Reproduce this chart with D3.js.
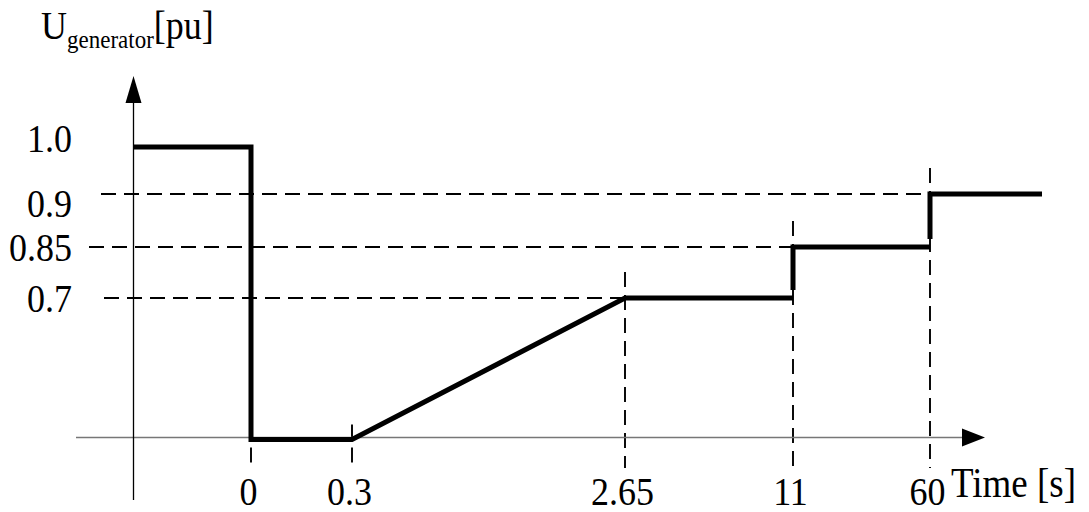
<!DOCTYPE html>
<html lang="en">
<head>
<meta charset="UTF-8">
<title>Generator voltage profile</title>
<script src="https://d3js.org/d3.v7.min.js"></script>
<style>
  body { margin: 0; background: #fff; }
  svg text { font-family: "Liberation Serif", "Times New Roman", serif; font-size: 36px; fill: #000; }
</style>
</head>
<body>
<div id="chart"></div>
<script>
// tick values and labels
const timeTicks = [0, 0.3, 2.65, 11, 60];
const timeLabels = ["0", "0.3", "2.65", "11", "60"];
const voltTicks = [1.0, 0.9, 0.85, 0.7];
const voltLabels = ["1.0", "0.9", "0.85", "0.7"];

// generator voltage profile: pre-fault, fault, ramp, recovery steps
const tPre = -1, tEnd = 100;
const profileTime = [tPre, 0, 0, 0.3, 2.65, 11, 11, 60, 60, tEnd];
const profileVolt = [1.0, 1.0, 0, 0, 0.7, 0.7, 0.85, 0.85, 0.9, 0.9];

const width = 1089, height = 512;
const stretch = "scale(1,1.12)";   // glyphs in the drawing are a bit taller than wide
const dash = "15,8";

const svg = d3.select("#chart").append("svg")
    .attr("width", width)
    .attr("height", height);

// schematic (not to scale) axes: piecewise linear scales
const x = d3.scaleLinear()
    .domain([tPre, ...timeTicks, tEnd])
    .range([133, 251, 352, 625, 793, 930, 1042]);

const y = d3.scaleLinear()
    .domain([0, 0.7, 0.85, 0.9, 1.0])
    .range([439.5, 298, 247, 194, 147]);

const axisY = y(0) - 2;
const yAxisX = x(tPre) + 0.5;

// dashed guides, horizontal: from the label to where the level is reached
const guideStart = { 0.9: 101, 0.85: 89, 0.7: 104 };
const levelReached = v => profileTime[profileVolt.findIndex((p, i) => p === v && i > 2)];
svg.append("g")
    .selectAll("line")
    .data(voltTicks.filter(v => v < 1))
    .join("line")
    .attr("x1", v => guideStart[v])
    .attr("x2", v => x(levelReached(v)))
    .attr("y1", v => y(v))
    .attr("y2", v => y(v))
    .attr("stroke", "#000")
    .attr("stroke-width", 1.9)
    .attr("stroke-dasharray", dash);

// dashed guides, vertical at each time tick
const levelAt = t => d3.max(profileTime.map((p, i) => p === t ? profileVolt[i] : -1));
svg.append("g")
    .selectAll("line")
    .data(timeTicks)
    .join("line")
    .attr("x1", t => x(t))
    .attr("x2", t => x(t))
    .attr("y1", t => {
        const v = t === 0 ? 0 : levelAt(t);
        return y(v) - (v > 0 ? 26 : 15);
    })
    .attr("y2", 468)
    .attr("stroke", "#000")
    .attr("stroke-width", 1.9)
    .attr("stroke-dasharray", dash);

// x axis (grey) with arrow
svg.append("line")
    .attr("x1", 76).attr("x2", 964)
    .attr("y1", axisY).attr("y2", axisY)
    .attr("stroke", "#777")
    .attr("stroke-width", 1.6);
svg.append("path")
    .attr("d", `M985,${axisY} L962,${axisY - 9} L962,${axisY + 9} Z`)
    .attr("fill", "#000");

// y axis with arrow
svg.append("line")
    .attr("x1", yAxisX).attr("x2", yAxisX)
    .attr("y1", 100).attr("y2", 500)
    .attr("stroke", "#000")
    .attr("stroke-width", 1.3);
svg.append("path")
    .attr("d", `M${yAxisX},76 L${yAxisX - 8},103 L${yAxisX + 8},103 Z`)
    .attr("fill", "#000");

// voltage profile; upward steps start a little above the previous level
const stepGap = 8;
const pts = profileTime.map((t, i) => [x(t), y(profileVolt[i])]);
const runs = [[pts[0]]];
for (let i = 1; i < pts.length; i++) {
    const stepUp = profileTime[i] === profileTime[i - 1] && profileVolt[i] > profileVolt[i - 1];
    if (stepUp) runs.push([[pts[i - 1][0], pts[i - 1][1] - stepGap]]);
    runs[runs.length - 1].push(pts[i]);
}
svg.append("g")
    .selectAll("path")
    .data(runs)
    .join("path")
    .attr("d", d3.line())
    .attr("fill", "none")
    .attr("stroke", "#000")
    .attr("stroke-width", 5)
    .attr("stroke-linejoin", "miter");

// y tick labels
const yNudge = { 1: -9, 0.9: 9 };
svg.append("g")
    .attr("transform", "translate(72,0)")
    .call(d3.axisLeft(y)
        .tickValues(voltTicks)
        .tickFormat(d => voltLabels[voltTicks.indexOf(d)])
        .tickSize(0))
    .call(g => g.attr("font-family", null).attr("font-size", null))
    .call(g => g.select(".domain").remove())
    .call(g => g.selectAll(".tick line").remove())
    .call(g => g.selectAll(".tick text")
        .attr("x", 0)
        .attr("dy", null)
        .attr("transform", d => `translate(0,${13.5 + (yNudge[d] || 0)}) ${stretch}`));

// x tick labels
svg.append("g")
    .attr("transform", "translate(0,505)")
    .call(d3.axisBottom(x)
        .tickValues(timeTicks)
        .tickFormat(d => timeLabels[timeTicks.indexOf(d)])
        .tickSize(0))
    .call(g => g.attr("font-family", null).attr("font-size", null))
    .call(g => g.select(".domain").remove())
    .call(g => g.selectAll(".tick line").remove())
    .call(g => g.selectAll(".tick text")
        .attr("y", 0)
        .attr("dy", null)
        .attr("transform", `translate(-3,0) ${stretch}`));

// axis titles
svg.append("text")
    .attr("transform", `translate(951,497) ${stretch}`)
    .style("font-size", "37px")
    .text("Time [s]");

const title = svg.append("text")
    .attr("transform", `translate(41,39) ${stretch}`);
title.append("tspan").text("U");
title.append("tspan").style("font-size", "23px").attr("dy", 8).text("generator");
title.append("tspan").attr("dy", -8).text("[pu]");
</script>
</body>
</html>
